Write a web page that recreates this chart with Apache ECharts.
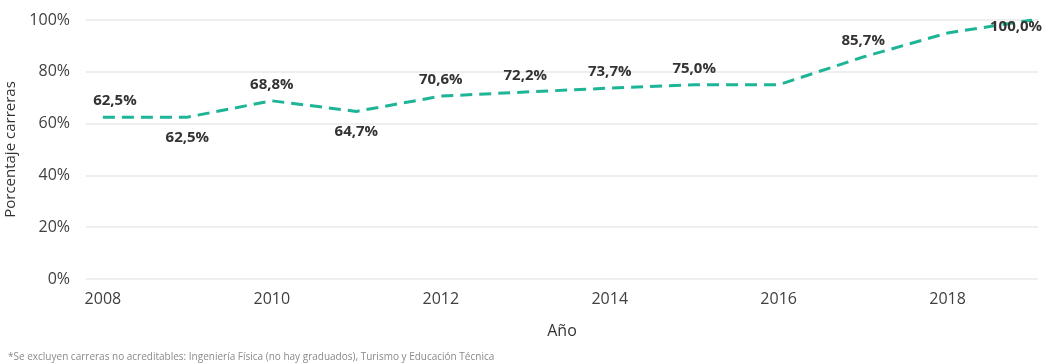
<!DOCTYPE html>
<html>
<head>
<meta charset="utf-8">
<script src="https://cdn.jsdelivr.net/npm/echarts@6/dist/echarts.min.js"></script>
<style>
html,body{margin:0;padding:0;background:#fff;}
#chart{width:1043px;height:364px;}
</style>
</head>
<body>
<div id="chart"></div>
<script>
const years = [2008, 2009, 2010, 2011, 2012, 2013, 2014, 2015, 2016, 2017, 2018, 2019];
const values = [62.5, 62.5, 68.8, 64.7, 70.6, 72.2, 73.7, 75.0, 75.0, 85.7, 95.0, 100.0];
const labelShown = [true, true, true, true, true, true, true, true, false, true, false, true];
const labelBelow = [false, true, false, true, false, false, false, false, false, false, false, false];
const xTickLabels = [2008, 2010, 2012, 2014, 2016, 2018];
const yTickValues = [0, 20, 40, 60, 80, 100];
const footnote = '*Se excluyen carreras no acreditables: Ingeniería Física (no hay graduados), Turismo y Educación Técnica';

const fmt = v => v.toFixed(1).replace('.', ',') + '%';

const data = years.map((y, i) => {
  let lab = {
    show: labelShown[i],
    position: labelBelow[i] ? 'bottom' : 'top',
    distance: labelBelow[i] ? 12 : 8
  };
  if (i === 0) {
    lab = { show: true, position: [13, -8], align: 'center', verticalAlign: 'bottom' };
  }
  if (i === years.length - 1) {
    lab = { show: true, position: [-15, 8], align: 'center', verticalAlign: 'middle' };
  }
  return { value: [y, values[i]], label: lab };
});

const chart = echarts.init(document.getElementById('chart'), null, { renderer: 'canvas' });
chart.setOption({
  animation: false,
  backgroundColor: '#ffffff',
  textStyle: { fontFamily: 'Open Sans' },
  title: {
    text: footnote,
    left: 3,
    top: 347,
    textStyle: { fontSize: 10, fontWeight: 'normal', color: '#8a8a8a', fontFamily: 'Open Sans' }
  },
  grid: { left: 86, right: 5, top: 20, bottom: 85, outerBoundsMode: 'none', containLabel: false },
  xAxis: {
    type: 'value',
    min: 2007.8,
    max: 2019.07,
    name: 'Año',
    nameLocation: 'middle',
    nameGap: 44,
    nameTextStyle: { fontSize: 16, color: '#333333', fontFamily: 'Open Sans' },
    axisLine: { show: false },
    axisTick: { show: false },
    splitLine: { show: false },
    axisLabel: {
      customValues: xTickLabels,
      fontSize: 16,
      color: '#404040',
      margin: 12,
      fontFamily: 'Open Sans',
      formatter: v => String(v)
    }
  },
  yAxis: {
    type: 'value',
    min: 0,
    max: 100,
    interval: 20,
    name: 'Porcentaje carreras',
    nameLocation: 'middle',
    nameGap: 64,
    nameTextStyle: { fontSize: 15, color: '#333333', fontFamily: 'Open Sans' },
    axisLine: { show: false },
    axisTick: { show: false },
    splitLine: { show: true, lineStyle: { color: '#e8e8e8', width: 1.5 } },
    axisLabel: {
      fontSize: 16,
      color: '#404040',
      margin: 16,
      fontFamily: 'Open Sans',
      formatter: v => (yTickValues.includes(v) ? v + '%' : '')
    }
  },
  series: [{
    type: 'line',
    data: data,
    showSymbol: true,
    showAllSymbol: true,
    symbol: 'circle',
    symbolSize: 2,
    itemStyle: { color: 'rgba(29,181,150,0)', borderWidth: 0 },
    lineStyle: { color: '#1db596', width: 3, type: [12, 7] },
    z: 2,
    label: {
      show: true,
      position: 'top',
      distance: 8,
      fontSize: 15,
      fontWeight: 'bold',
      color: '#333333',
      fontFamily: 'Open Sans',
      formatter: p => fmt(p.value[1])
    },
    labelLayout: { hideOverlap: false }
  }]
});
</script>
</body>
</html>
